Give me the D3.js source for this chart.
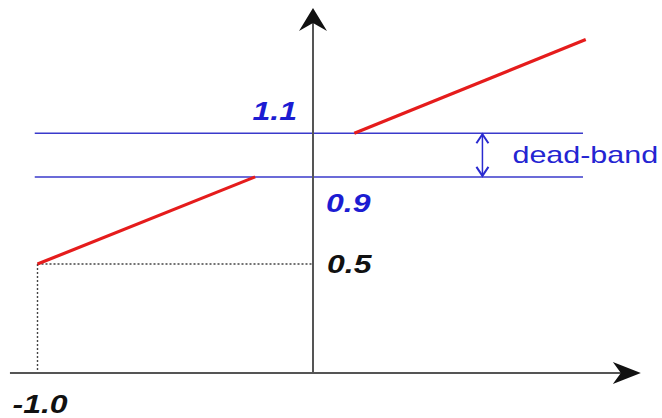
<!DOCTYPE html>
<html><head><meta charset="utf-8">
<script src="https://cdn.jsdelivr.net/npm/d3@7"></script>
<style>html,body{margin:0;padding:0;background:#fff}svg{display:block}</style>
</head><body>
<svg id="c" width="662" height="418"></svg>
<script>
// ---- data ----
const lowerBranch = [[-1.0, 0.5], [-0.21, 0.9]];
const upperBranch = [[0.15, 1.1], [0.99, 1.53]];
const bandLevels = [0.9, 1.1];
const bandExtent = [-1.01, 0.98];
const guideX = -1.0, guideY = 0.5;
const deadBandAt = 0.615;
const xAxisExtent = [-1.1, 1.19];
const yAxisTop = 1.675;
const labels = [
  {text: "1.1", color: "#1c1cd2"},
  {text: "0.9", color: "#1c1cd2"},
  {text: "0.5", color: "#111"},
  {text: "-1.0", color: "#111"}
];
const bandLabel = "dead-band";

// ---- scales ----
const x = d3.scaleLinear().domain([-1, 0]).range([37.5, 313]);
const y = d3.scaleLinear().domain([0, 1.1]).range([373, 133.3]);

const svg = d3.select("#c");
const x0 = x(0), y0 = y(0);

// band lines
svg.selectAll("line.band").data(bandLevels).join("line")
  .attr("class","band")
  .attr("x1", x(bandExtent[0])).attr("x2", x(bandExtent[1]))
  .attr("y1", d => y(d)).attr("y2", d => y(d))
  .attr("stroke", "#3a3acb").attr("stroke-width", 1.5);

// dotted guides
svg.append("line").attr("x1", x(guideX)).attr("x2", x0)
  .attr("y1", y(guideY)).attr("y2", y(guideY))
  .attr("stroke","#444").attr("stroke-width",1.4).attr("stroke-dasharray","2,2");
svg.append("line").attr("x1", x(guideX)).attr("x2", x(guideX))
  .attr("y1", y(guideY)).attr("y2", y0)
  .attr("stroke","#444").attr("stroke-width",1.4).attr("stroke-dasharray","2,2");

// axes
svg.append("line").attr("x1", x(xAxisExtent[0])).attr("x2", x(xAxisExtent[1]) - 8)
  .attr("y1", y0).attr("y2", y0).attr("stroke","#555").attr("stroke-width",2);
svg.append("line").attr("x1", x0).attr("x2", x0)
  .attr("y1", y0).attr("y2", y(yAxisTop) + 8).attr("stroke","#555").attr("stroke-width",2);
// arrowheads
const xe = x(xAxisExtent[1]), yt = y(yAxisTop);
svg.append("path")
  .attr("d", `M${xe},${y0} L${xe-28},${y0-11} L${xe-20},${y0} L${xe-28},${y0+11} Z`)
  .attr("fill","#111");
svg.append("path")
  .attr("d", `M${x0},${yt} L${x0-14},${yt+23} L${x0},${yt+15} L${x0+14},${yt+23} Z`)
  .attr("fill","#111");

// red branches
const line = d3.line().x(d => x(d[0])).y(d => y(d[1]));
svg.selectAll("path.branch").data([lowerBranch, upperBranch]).join("path")
  .attr("class","branch").attr("d", line)
  .attr("fill","none").attr("stroke","#e51c1c").attr("stroke-width",3.2)
  .attr("stroke-linecap","butt");

// dead-band double arrow
const ax = x(deadBandAt), ya = y(bandLevels[1]) + 1, yb = y(bandLevels[0]) - 1;
svg.append("line").attr("x1", ax).attr("x2", ax).attr("y1", ya).attr("y2", yb)
  .attr("stroke","#2a2ad0").attr("stroke-width",1.5);
svg.append("path").attr("d", `M${ax-6},${ya+9} L${ax},${ya} L${ax+6},${ya+9}`)
  .attr("fill","none").attr("stroke","#2a2ad0").attr("stroke-width",2);
svg.append("path").attr("d", `M${ax-6},${yb-9} L${ax},${yb} L${ax+6},${yb-9}`)
  .attr("fill","none").attr("stroke","#2a2ad0").attr("stroke-width",2);

// labels
const pos = [
  {px: x0 - 16, py: y(1.1) - 13, anchor: "end"},
  {px: x0 + 13, py: y(0.9) + 35, anchor: "start"},
  {px: x0 + 14, py: y(0.5) + 9, anchor: "start"},
  {px: x(-1) - 25, py: y0 + 40, anchor: "start"}
];
labels.forEach((l, i) => {
  svg.append("text")
    .attr("transform", `translate(${pos[i].px},${pos[i].py}) scale(1.28,1)`)
    .attr("text-anchor", pos[i].anchor)
    .attr("font-family", "'Liberation Sans', Arial, sans-serif")
    .attr("font-size", 25).attr("font-weight", "bold").attr("font-style", "italic")
    .attr("fill", l.color).text(l.text);
});
svg.append("text")
  .attr("transform", `translate(${ax + 30},${y(1.0) + 8}) scale(1.27,1)`)
  .attr("font-family", "'Liberation Sans', Arial, sans-serif")
  .attr("font-size", 24).attr("fill", "#2424d2").text(bandLabel);
</script>
</body></html>
